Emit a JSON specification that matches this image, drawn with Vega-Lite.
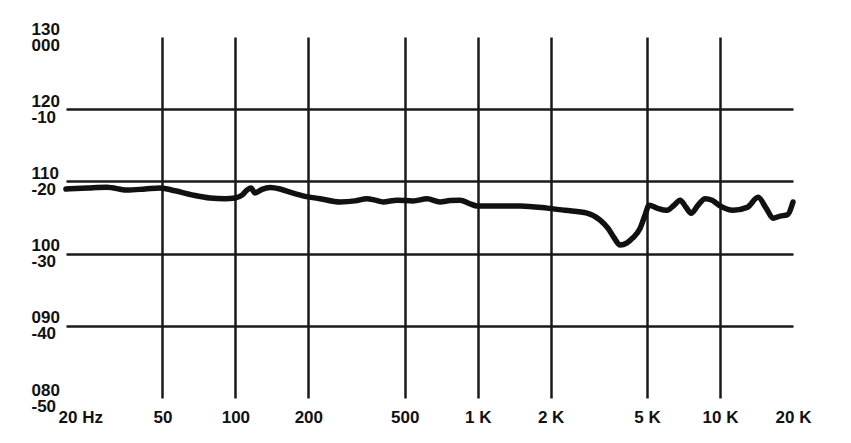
{
  "$schema": "https://vega.github.io/schema/vega-lite/v6.json",
  "width": 727,
  "height": 361,
  "autosize": "none",
  "padding": {"left": 66, "top": 37, "right": 58, "bottom": 45},
  "background": "white",
  "config": {
    "view": {"stroke": null},
    "axis": {
      "labelFont": "Liberation Sans",
      "labelFontWeight": "bold",
      "labelFontSize": 17,
      "labelColor": "#111111",
      "domain": false,
      "ticks": false,
      "title": null,
      "gridColor": "#1a1a1a",
      "gridWidth": 2.5
    }
  },
  "data": {
    "values": [
      {"f": 20, "db": 108.95},
      {"f": 24.6, "db": 109.1},
      {"f": 29.5, "db": 109.2},
      {"f": 35.7, "db": 108.8},
      {"f": 42.4, "db": 108.95},
      {"f": 48.9, "db": 109.1},
      {"f": 56.4, "db": 108.7},
      {"f": 66.9, "db": 108.1},
      {"f": 78.6, "db": 107.7},
      {"f": 90.6, "db": 107.6},
      {"f": 99.7, "db": 107.7},
      {"f": 106.5, "db": 108.1},
      {"f": 111.7, "db": 108.8},
      {"f": 116, "db": 109.1},
      {"f": 120.5, "db": 108.4},
      {"f": 128.8, "db": 108.9},
      {"f": 139, "db": 109.15},
      {"f": 152.8, "db": 108.95},
      {"f": 168, "db": 108.5},
      {"f": 190, "db": 108.0},
      {"f": 223.7, "db": 107.6},
      {"f": 270, "db": 107.15},
      {"f": 312, "db": 107.3},
      {"f": 349, "db": 107.6},
      {"f": 377, "db": 107.4},
      {"f": 407, "db": 107.15},
      {"f": 465, "db": 107.4},
      {"f": 541, "db": 107.3},
      {"f": 618, "db": 107.6},
      {"f": 699, "db": 107.15},
      {"f": 769, "db": 107.35},
      {"f": 846, "db": 107.4},
      {"f": 930, "db": 106.9},
      {"f": 994, "db": 106.6},
      {"f": 1236, "db": 106.6},
      {"f": 1496, "db": 106.6},
      {"f": 1932, "db": 106.3},
      {"f": 2293, "db": 106.0},
      {"f": 2826, "db": 105.6},
      {"f": 3200, "db": 104.65},
      {"f": 3452, "db": 103.5},
      {"f": 3652, "db": 102.2},
      {"f": 3866, "db": 101.2},
      {"f": 4131, "db": 101.5},
      {"f": 4375, "db": 102.2},
      {"f": 4677, "db": 103.5},
      {"f": 4905, "db": 105.35},
      {"f": 5094, "db": 106.7},
      {"f": 5496, "db": 106.3},
      {"f": 6040, "db": 106.0},
      {"f": 6458, "db": 106.7},
      {"f": 6841, "db": 107.4},
      {"f": 7242, "db": 106.4},
      {"f": 7592, "db": 105.6},
      {"f": 8112, "db": 106.7},
      {"f": 8672, "db": 107.6},
      {"f": 9272, "db": 107.4},
      {"f": 10000, "db": 106.6},
      {"f": 11320, "db": 106.0},
      {"f": 12940, "db": 106.4},
      {"f": 14360, "db": 107.8},
      {"f": 15490, "db": 106.3},
      {"f": 16560, "db": 104.9},
      {"f": 17700, "db": 105.2},
      {"f": 18920, "db": 105.35},
      {"f": 20000, "db": 107.15}
    ]
  },
  "mark": {"type": "line", "color": "#111111", "strokeWidth": 5.5, "interpolate": "monotone", "strokeCap": "round", "strokeJoin": "round"},
  "encoding": {
    "x": {
      "field": "f",
      "type": "quantitative",
      "scale": {"type": "log", "domain": [20, 20000], "nice": false},
      "axis": {
        "values": [20, 50, 100, 200, 500, 1000, 2000, 5000, 10000, 20000],
        "labelExpr": "datum.value == 20 ? '20 Hz' : (datum.value >= 1000 ? (datum.value / 1000) + ' K' : '' + datum.value)",
        "labelPadding": 11,
        "labelAlign": {"condition": {"test": "datum.value == 20", "value": "left"}, "value": "center"},
        "labelOffset": {"condition": {"test": "datum.value == 20", "value": -8}, "value": 0},
        "labelFlush": false,
        "labelOverlap": false,
        "gridOpacity": {"condition": {"test": "datum.value == 20 || datum.value == 20000", "value": 0}, "value": 1}
      }
    },
    "y": {
      "field": "db",
      "type": "quantitative",
      "scale": {"domain": [80, 130], "nice": false, "zero": false},
      "axis": {
        "values": [80, 90, 100, 110, 120, 130],
        "labelExpr": "[datum.value == 130 ? '130' : (datum.value < 100 ? '0' + datum.value : '' + datum.value), datum.value == 130 ? '000' : '-' + (130 - datum.value)]",
        "labelAlign": "left",
        "labelBaseline": "middle",
        "labelPadding": 35,
        "labelOffset": -8,
        "labelLineHeight": 16,
        "labelFlush": false,
        "labelOverlap": false,
        "gridOpacity": {"condition": {"test": "datum.value == 80 || datum.value == 130", "value": 0}, "value": 1}
      }
    }
  }
}
